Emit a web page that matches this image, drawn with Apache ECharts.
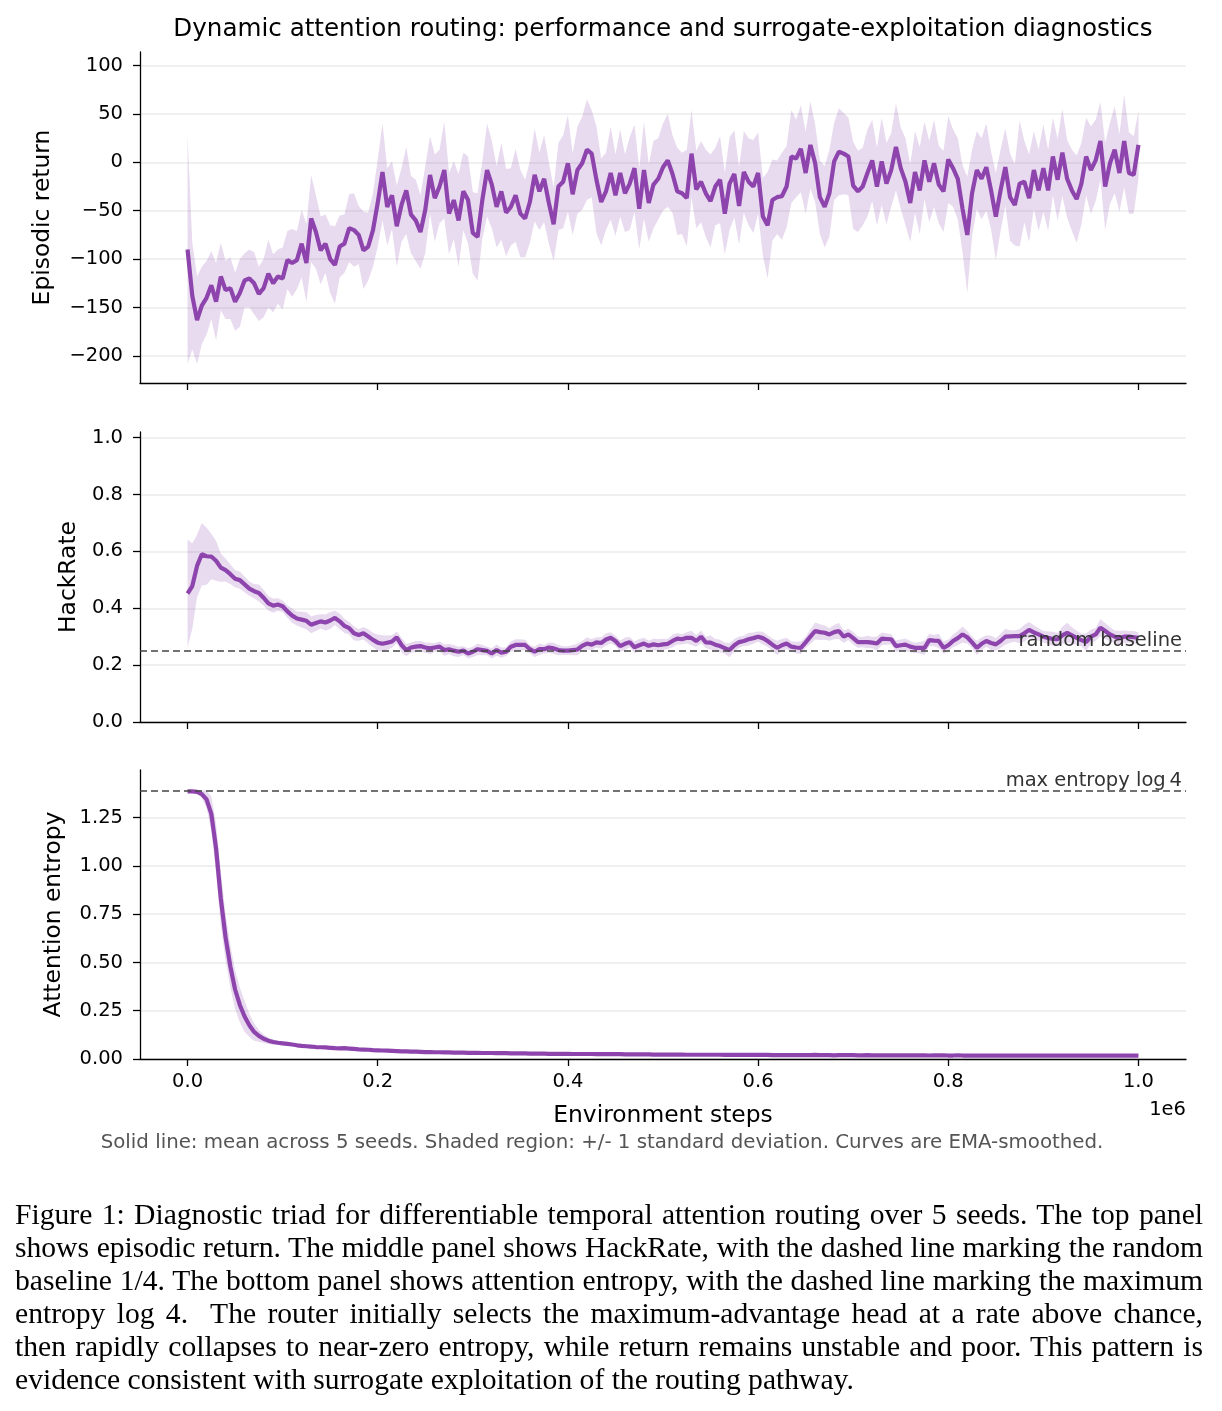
<!DOCTYPE html>
<html>
<head>
<meta charset="utf-8">
<script src="https://cdn.jsdelivr.net/npm/echarts@6/dist/echarts.min.js"></script>
<style>
  body { margin: 0; background: #fff; }
  #chart { position: absolute; left: 0; top: 0; width: 1222px; height: 1411px; }
  #caption {
    position: absolute; left: 15px; top: 1198px; width: 1188px;
    font-family: "Liberation Serif", "Times New Roman", serif;
    font-size: 29.6px; line-height: 33px; color: #000;
  }
  #caption div { text-align: justify; text-align-last: justify; white-space: nowrap; }
  #caption div.last { text-align-last: left; }
</style>
</head>
<body>
<div id="chart"></div>
<div id="caption">
  <div>Figure 1: Diagnostic triad for differentiable temporal attention routing over 5 seeds. The top panel</div>
  <div>shows episodic return. The middle panel shows HackRate, with the dashed line marking the random</div>
  <div>baseline 1/4. The bottom panel shows attention entropy, with the dashed line marking the maximum</div>
  <div>entropy log 4.&nbsp; The router initially selects the maximum-advantage head at a rate above chance,</div>
  <div>then rapidly collapses to near-zero entropy, while return remains unstable and poor. This pattern is</div>
  <div class="last">evidence consistent with surrogate exploitation of the routing pathway.</div>
</div>
<script>
// sampling grid: one point every 5000 environment steps, 0 .. 1e6
var STEP = 5000;

// episodic return (mean over seeds, EMA-smoothed)
var returnMean = [
  -90, -138, -163, -148, -140, -127, -144, -118, -132, -130,
  -144, -135, -122, -120, -125, -136, -130, -115, -125, -118,
  -120, -101, -104, -101, -84, -104, -58, -72, -91, -84,
  -100, -106, -87, -84, -68, -70, -75, -91, -87, -70,
  -42, -10, -46, -34, -66, -44, -29, -54, -60, -72,
  -49, -13, -37, -25, -8, -53, -39, -60, -30, -39,
  -73, -77, -39, -8, -23, -46, -30, -52, -46, -34,
  -53, -58, -41, -13, -30, -17, -42, -64, -25, -20,
  -1, -33, -8, -1, 13, 9, -18, -41, -30, -11,
  -34, -11, -32, -22, -6, -48, -8, -42, -23, -17,
  -5, 2, -12, -30, -32, -37, 9, -28, -20, -32,
  -40, -25, -18, -53, -22, -12, -45, -10, -20, -25,
  -11, -56, -65, -39, -36, -35, -25, 6, 4, 14,
  -11, 18, -1, -36, -46, -32, 1, 11, 9, 6,
  -24, -30, -25, -11, 2, -25, 1, -22, -8, 16,
  -6, -20, -42, -10, -29, 2, -20, -1, -23, -30,
  3, -6, -17, -48, -75, -32, -8, -17, -5, -29,
  -56, -29, -5, -36, -44, -22, -20, -37, -8, -29,
  -6, -29, 6, -18, 10, -17, -29, -38, -22, 6,
  -8, 2, 22, -25, -1, 13, -11, 22, -11, -13,
  18
];
var returnStd = [
  118, 55, 45, 40, 38, 35, 40, 35, 30, 32,
  30, 35, 28, 30, 32, 28, 30, 35, 30, 28,
  32, 30, 35, 30, 35, 40, 45, 38, 35, 30,
  35, 40, 32, 30, 35, 38, 30, 40, 35, 38,
  45, 50, 40, 35, 42, 38, 45, 40, 42, 38,
  45, 40, 45, 38, 50, 42, 40, 48, 40, 45,
  42, 45, 40, 48, 45, 42, 50, 45, 40, 48,
  45, 40, 42, 48, 40, 45, 42, 38, 45, 48,
  50, 42, 45, 48, 52, 45, 55, 45, 40, 48,
  42, 45, 40, 48, 45, 42, 50, 40, 45, 42,
  45, 48, 40, 45, 42, 50, 45, 40, 42, 45,
  48, 40, 45, 42, 48, 45, 40, 42, 45, 48,
  42, 40, 55, 42, 38, 45, 42, 48, 40, 45,
  42, 45, 40, 38, 42, 45, 40, 45, 42, 40,
  45, 42, 40, 45, 42, 40, 45, 42, 38, 45,
  42, 45, 40, 42, 45, 40, 42, 45, 40, 42,
  45, 40, 42, 45, 60, 45, 40, 42, 45, 40,
  45, 42, 40, 45, 42, 65, 42, 45, 40, 42,
  45, 42, 40, 42, 45, 40, 42, 45, 42, 40,
  45, 42, 40, 45, 42, 45, 40, 48, 42, 40,
  35
];

// HackRate
var hackMean = [
  0.452, 0.478, 0.549, 0.590, 0.583, 0.582, 0.567, 0.543, 0.534, 0.520,
  0.504, 0.499, 0.484, 0.469, 0.460, 0.454, 0.437, 0.417, 0.409, 0.413,
  0.407, 0.389, 0.374, 0.364, 0.360, 0.356, 0.342, 0.348, 0.354, 0.350,
  0.357, 0.366, 0.354, 0.338, 0.330, 0.312, 0.306, 0.312, 0.301, 0.289,
  0.279, 0.275, 0.279, 0.283, 0.298, 0.271, 0.253, 0.262, 0.265, 0.267,
  0.262, 0.259, 0.262, 0.265, 0.253, 0.256, 0.251, 0.247, 0.251, 0.241,
  0.247, 0.256, 0.253, 0.250, 0.241, 0.253, 0.244, 0.247, 0.265, 0.271,
  0.271, 0.271, 0.256, 0.247, 0.256, 0.256, 0.262, 0.259, 0.253, 0.251,
  0.251, 0.253, 0.255, 0.268, 0.276, 0.272, 0.280, 0.278, 0.290, 0.296,
  0.285, 0.267, 0.275, 0.281, 0.263, 0.270, 0.276, 0.268, 0.273, 0.270,
  0.273, 0.275, 0.285, 0.293, 0.291, 0.296, 0.296, 0.285, 0.300, 0.280,
  0.279, 0.272, 0.267, 0.260, 0.253, 0.270, 0.281, 0.285, 0.291, 0.295,
  0.300, 0.295, 0.285, 0.272, 0.261, 0.270, 0.276, 0.265, 0.262, 0.261,
  0.280, 0.300, 0.320, 0.316, 0.314, 0.308, 0.316, 0.320, 0.300, 0.308,
  0.295, 0.281, 0.281, 0.281, 0.279, 0.276, 0.293, 0.292, 0.291, 0.267,
  0.270, 0.272, 0.265, 0.261, 0.261, 0.261, 0.288, 0.286, 0.285, 0.261,
  0.270, 0.285, 0.295, 0.308, 0.298, 0.280, 0.261, 0.275, 0.285, 0.278,
  0.273, 0.285, 0.300, 0.301, 0.302, 0.302, 0.312, 0.324, 0.315, 0.308,
  0.300, 0.296, 0.292, 0.291, 0.305, 0.314, 0.305, 0.296, 0.288, 0.281,
  0.300, 0.308, 0.332, 0.320, 0.308, 0.300, 0.296, 0.300, 0.300, 0.298,
  0.296
];
var hackStd = [
  0.19, 0.15, 0.11, 0.11, 0.10, 0.08, 0.07, 0.05, 0.04, 0.035,
  0.03, 0.03, 0.028, 0.025, 0.025, 0.03, 0.028, 0.025, 0.025, 0.022,
  0.02, 0.022, 0.025, 0.025, 0.028, 0.03, 0.03, 0.028, 0.025, 0.028,
  0.03, 0.025, 0.028, 0.025, 0.022, 0.025, 0.02, 0.022, 0.025, 0.025,
  0.028, 0.03, 0.025, 0.022, 0.02, 0.025, 0.022, 0.018, 0.02, 0.018,
  0.018, 0.02, 0.015, 0.018, 0.02, 0.018, 0.02, 0.018, 0.015, 0.018,
  0.018, 0.02, 0.018, 0.015, 0.018, 0.02, 0.018, 0.015, 0.018, 0.02,
  0.02, 0.018, 0.015, 0.018, 0.02, 0.015, 0.018, 0.02, 0.018, 0.015,
  0.015, 0.018, 0.02, 0.018, 0.022, 0.02, 0.018, 0.02, 0.022, 0.02,
  0.018, 0.02, 0.022, 0.018, 0.02, 0.022, 0.02, 0.018, 0.02, 0.022,
  0.02, 0.018, 0.022, 0.02, 0.018, 0.02, 0.025, 0.02, 0.022, 0.02,
  0.025, 0.02, 0.022, 0.02, 0.025, 0.022, 0.02, 0.018, 0.022, 0.02,
  0.018, 0.022, 0.02, 0.022, 0.025, 0.022, 0.02, 0.018, 0.02, 0.022,
  0.02, 0.025, 0.03, 0.028, 0.025, 0.022, 0.025, 0.028, 0.022, 0.02,
  0.022, 0.02, 0.018, 0.022, 0.02, 0.025, 0.022, 0.02, 0.018, 0.02,
  0.02, 0.022, 0.02, 0.018, 0.02, 0.025, 0.022, 0.02, 0.025, 0.022,
  0.02, 0.022, 0.025, 0.028, 0.022, 0.02, 0.025, 0.022, 0.02, 0.025,
  0.022, 0.025, 0.028, 0.022, 0.02, 0.025, 0.03, 0.028, 0.025, 0.022,
  0.02, 0.022, 0.025, 0.022, 0.03, 0.035, 0.028, 0.025, 0.022, 0.03,
  0.025, 0.022, 0.03, 0.028, 0.025, 0.022, 0.025, 0.022, 0.02, 0.022,
  0.02
];

// attention entropy
var entMean = [
  1.386, 1.386, 1.384, 1.372, 1.345, 1.27, 1.09, 0.83, 0.63, 0.48,
  0.36, 0.28, 0.22, 0.175, 0.14, 0.12, 0.105, 0.095, 0.088, 0.084,
  0.081, 0.078, 0.075, 0.071, 0.068, 0.066, 0.064, 0.062, 0.061, 0.060,
  0.058, 0.056, 0.055, 0.056, 0.054, 0.052, 0.050, 0.049, 0.048, 0.046,
  0.045, 0.044, 0.043, 0.042, 0.041, 0.040, 0.039, 0.038, 0.038, 0.037,
  0.036, 0.036, 0.035, 0.035, 0.034, 0.034, 0.033, 0.033, 0.033, 0.032,
  0.032, 0.032, 0.031, 0.031, 0.031, 0.030, 0.030, 0.030, 0.029, 0.029,
  0.029, 0.029, 0.028, 0.028, 0.028, 0.028, 0.027, 0.027, 0.027, 0.027,
  0.027, 0.026, 0.026, 0.026, 0.026, 0.026, 0.025, 0.025, 0.025, 0.025,
  0.025, 0.025, 0.024, 0.024, 0.024, 0.024, 0.024, 0.024, 0.023, 0.023,
  0.023, 0.023, 0.023, 0.023, 0.023, 0.022, 0.022, 0.022, 0.022, 0.022,
  0.022, 0.022, 0.022, 0.021, 0.021, 0.021, 0.021, 0.021, 0.021, 0.021,
  0.021, 0.021, 0.021, 0.020, 0.020, 0.020, 0.020, 0.020, 0.020, 0.020,
  0.020, 0.020, 0.021, 0.020, 0.020, 0.020, 0.019, 0.020, 0.020, 0.020,
  0.020, 0.019, 0.019, 0.020, 0.019, 0.019, 0.019, 0.019, 0.019, 0.019,
  0.019, 0.019, 0.019, 0.019, 0.019, 0.019, 0.018, 0.019, 0.019, 0.019,
  0.018, 0.018, 0.019, 0.018, 0.018, 0.018, 0.018, 0.018, 0.018, 0.018,
  0.018, 0.018, 0.018, 0.018, 0.018, 0.018, 0.018, 0.018, 0.018, 0.018,
  0.018, 0.018, 0.018, 0.017, 0.018, 0.018, 0.018, 0.018, 0.018, 0.018,
  0.018, 0.018, 0.018, 0.018, 0.018, 0.018, 0.018, 0.018, 0.018, 0.018,
  0.018
];
var entStd = [
  0.002, 0.003, 0.008, 0.02, 0.045, 0.09, 0.13, 0.14, 0.12, 0.11,
  0.10, 0.09, 0.08, 0.06, 0.045, 0.03, 0.022, 0.017, 0.013, 0.01,
  0.009, 0.008, 0.008, 0.007, 0.007, 0.006, 0.006, 0.006, 0.005, 0.005,
  0.005, 0.005, 0.005, 0.004, 0.004, 0.004, 0.004, 0.004, 0.004, 0.004,
  0.004, 0.004, 0.004, 0.004, 0.004, 0.004, 0.004, 0.004, 0.004, 0.004,
  0.004, 0.004, 0.004, 0.004, 0.004, 0.004, 0.004, 0.004, 0.004, 0.004,
  0.004, 0.004, 0.004, 0.004, 0.004, 0.004, 0.004, 0.004, 0.004, 0.004,
  0.003, 0.003, 0.003, 0.003, 0.003, 0.003, 0.003, 0.003, 0.003, 0.003,
  0.003, 0.003, 0.003, 0.003, 0.003, 0.003, 0.003, 0.003, 0.003, 0.003,
  0.003, 0.003, 0.003, 0.003, 0.003, 0.003, 0.003, 0.003, 0.003, 0.003,
  0.003, 0.003, 0.003, 0.003, 0.003, 0.003, 0.003, 0.003, 0.003, 0.003,
  0.003, 0.003, 0.003, 0.003, 0.003, 0.003, 0.003, 0.003, 0.003, 0.003,
  0.003, 0.003, 0.003, 0.003, 0.003, 0.003, 0.003, 0.003, 0.003, 0.003,
  0.003, 0.003, 0.003, 0.003, 0.003, 0.003, 0.003, 0.003, 0.003, 0.003,
  0.003, 0.003, 0.003, 0.003, 0.003, 0.003, 0.003, 0.003, 0.003, 0.003,
  0.003, 0.003, 0.003, 0.003, 0.003, 0.003, 0.003, 0.003, 0.003, 0.003,
  0.003, 0.003, 0.003, 0.003, 0.003, 0.003, 0.003, 0.003, 0.003, 0.003,
  0.003, 0.003, 0.003, 0.003, 0.003, 0.003, 0.003, 0.003, 0.003, 0.003,
  0.003, 0.003, 0.003, 0.003, 0.003, 0.003, 0.003, 0.003, 0.003, 0.003,
  0.003, 0.003, 0.003, 0.003, 0.003, 0.003, 0.003, 0.003, 0.003, 0.003,
  0.003
];

var xTicks = [0, 200000, 400000, 600000, 800000, 1000000];
var returnTicks = [-200, -150, -100, -50, 0, 50, 100];
var hackTicks = [0, 0.2, 0.4, 0.6, 0.8, 1.0];
var entTicks = [0, 0.25, 0.5, 0.75, 1.0, 1.25];
var randomBaseline = 0.25;
var maxEntropy = 1.386; // log 4

var PURPLE = '#8e44ad';
var BAND = 'rgba(142,68,173,0.2)';
var FONT = 'DejaVu Sans';

function pairs(arr) {
  return arr.map(function (v, i) { return [i * STEP, v]; });
}

// shaded +/- 1 std band: one polygon through the axis scales
// floor: lower bound for the band (null = none)
function band(idx, mean, std, floor) {
  return {
    type: 'custom', xAxisIndex: idx, yAxisIndex: idx, silent: true, animation: false,
    clip: true, z: 2, data: pairs(mean), encode: { x: 0, y: 1 },
    renderItem: function (params, api) {
      if (params.dataIndex !== 0) return;
      var up = [], lo = [];
      for (var i = 0; i < mean.length; i++) {
        var low = mean[i] - std[i];
        if (floor !== null && low < floor) low = floor;
        up.push(api.coord([i * STEP, mean[i] + std[i]]));
        lo.push(api.coord([i * STEP, low]));
      }
      return {
        type: 'polygon',
        shape: { points: up.concat(lo.reverse()) },
        style: { fill: BAND }
      };
    }
  };
}

function meanLine(idx, mean, mark) {
  var s = {
    type: 'line', xAxisIndex: idx, yAxisIndex: idx, data: pairs(mean),
    showSymbol: false, animation: false, silent: true,
    lineStyle: { color: PURPLE, width: 4.2 }, emphasis: { disabled: true }, z: 3
  };
  if (mark) {
    s.markLine = {
      silent: true, symbol: ['none', 'none'], animation: false,
      lineStyle: { color: '#444', type: [7, 4], width: 1.6 },
      label: {
        position: 'insideEndTop', formatter: mark.text, color: '#333',
        fontFamily: FONT, fontSize: 19.5, distance: [4, 0]
      },
      data: [{ yAxis: mark.y }]
    };
  }
  return s;
}

function xAxis(idx, showLabels) {
  return {
    type: 'value', gridIndex: idx, min: -50000, max: 1050000,
    axisLine: { onZero: false, lineStyle: { color: '#000', width: 1.3 } },
    axisTick: { customValues: xTicks, length: 7, lineStyle: { color: '#000', width: 1.3 } },
    axisLabel: {
      show: showLabels, customValues: xTicks, margin: 13, color: '#000',
      fontFamily: FONT, fontSize: 19.5,
      formatter: function (v) { return (v / 1e6).toFixed(1); }
    },
    splitLine: { show: false },
    name: showLabels ? 'Environment steps' : '', nameLocation: 'middle', nameGap: 45,
    nameTextStyle: { fontFamily: FONT, fontSize: 23.4, color: '#000' }
  };
}

function yAxis(idx, min, max, ticks, digits, name, gap) {
  return {
    type: 'value', gridIndex: idx, min: min, max: max,
    axisLine: { show: true, onZero: false, lineStyle: { color: '#000', width: 1.3 } },
    axisTick: { show: true, customValues: ticks, length: 7, lineStyle: { color: '#000', width: 1.3 } },
    axisLabel: {
      customValues: ticks, margin: 17, color: '#000', fontFamily: FONT, fontSize: 19.5,
      formatter: function (v) {
        var t = Math.abs(v).toFixed(digits);
        return v < 0 ? '\u2212' + t : t;
      }
    },
    splitLine: { show: true, lineStyle: { color: '#ebebeb', width: 1.5 } },
    name: name, nameLocation: 'middle', nameGap: gap, nameRotate: 90,
    nameTextStyle: { fontFamily: FONT, fontSize: 23.4, color: '#000' }
  };
}

var chart = echarts.init(document.getElementById('chart'), null, { renderer: 'canvas' });

chart.setOption({
  backgroundColor: '#fff',
  animation: false,
  grid: [
    { left: 140, top: 52, width: 1046, height: 331 },
    { left: 140, top: 432, width: 1046, height: 290 },
    { left: 140, top: 770, width: 1046, height: 289 }
  ],
  xAxis: [xAxis(0, false), xAxis(1, false), xAxis(2, true)],
  yAxis: [
    yAxis(0, -228, 114, returnTicks, 0, 'Episodic return', 86),
    yAxis(1, 0, 1.02, hackTicks, 1, 'HackRate', 60),
    yAxis(2, 0, 1.497, entTicks, 2, 'Attention entropy', 75)
  ],
  series: [
    band(0, returnMean, returnStd, null),
    meanLine(0, returnMean),
    band(1, hackMean, hackStd, null),
    meanLine(1, hackMean, { y: randomBaseline, text: 'random baseline' }),
    band(2, entMean, entStd, 0),
    meanLine(2, entMean, { y: maxEntropy, text: 'max entropy log\u20094' })
  ],
  graphic: [
    {
      type: 'text', x: 663, y: 30,
      style: {
        text: 'Dynamic attention routing: performance and surrogate-exploitation diagnostics',
        fontFamily: FONT, fontSize: 24.6, fill: '#000', textAlign: 'center', textVerticalAlign: 'middle'
      }
    },
    {
      type: 'text', x: 1186, y: 1110,
      style: { text: '1e6', fontFamily: FONT, fontSize: 19.5, fill: '#000', textAlign: 'right', textVerticalAlign: 'middle' }
    },
    {
      type: 'text', x: 602, y: 1143,
      style: {
        text: 'Solid line: mean across 5 seeds. Shaded region: +/- 1 standard deviation. Curves are EMA-smoothed.',
        fontFamily: FONT, fontSize: 19.8, fill: '#555', textAlign: 'center', textVerticalAlign: 'middle'
      }
    }
  ]
});
</script>
</body>
</html>
